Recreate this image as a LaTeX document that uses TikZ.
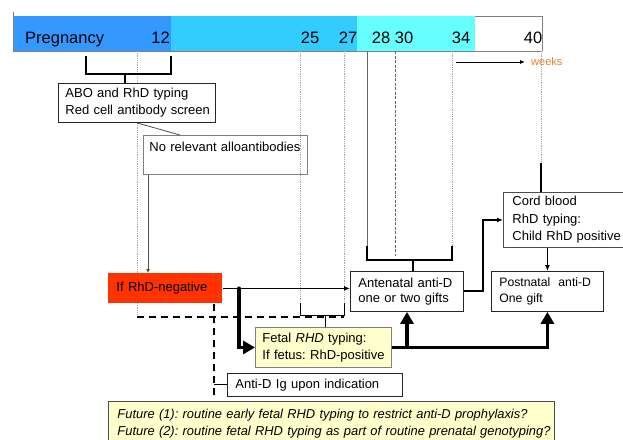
\documentclass[tikz,border=0pt]{standalone}
\usepackage{fontspec}
\setmainfont{Liberation Sans}
\usetikzlibrary{arrows.meta,calc}
\definecolor{barA}{HTML}{3399FF}
\definecolor{barB}{HTML}{33CCFF}
\definecolor{barC}{HTML}{66FFFF}
\definecolor{rhred}{HTML}{FF3300}
\definecolor{paleyel}{HTML}{FFFFCC}
\definecolor{wkorange}{HTML}{E8822A}
\frenchspacing
\begin{document}
\begin{tikzpicture}[x=1pt,y=-1pt,
  box/.style={draw=black!85, line width=0.9pt, anchor=north west, inner xsep=8pt, inner ysep=0pt, align=left, font=\fontsize{13}{17}\selectfont},
  guide/.style={gray!70, line width=0.8pt, densely dotted},
  bracket/.style={line width=1.5pt},
  barnum/.style={anchor=base, font=\fontsize{16.5}{18}\selectfont, inner sep=0pt},
  tip/.style={-{Latex[length=6pt,width=5pt]}},
  fatarrow/.style={line width=3.5pt, -{Triangle[length=12pt,width=13pt]}},
  dashline/.style={line width=1.5pt, dash pattern=on 7pt off 5pt},
]
\useasboundingbox (0,0) rectangle (623,439);
\fill[white] (0,0) rectangle (623,439);

% timeline bar
\fill[barA] (13,16) rectangle (171,51);
\fill[barB] (171,16) rectangle (357,51);
\fill[barC] (357,16) rectangle (475,51);
\draw[gray, line width=0.8pt] (475,16) -- (542,16) -- (542,51);
\draw[gray, line width=0.8pt] (13,51) -- (542,51);
\draw[gray, line width=0.8pt] (13,12) -- (13,52);
\node[barnum, anchor=base west] (preg) at (25,43) {Pregnancy};
\node[barnum, anchor=base east] (n12) at (170,43) {12};
\node[barnum] (n25) at (310,43) {25};
\node[barnum] (n27) at (348,43) {27};
\node[barnum] (n28) at (381,43) {28};
\node[barnum] (n30) at (404,43) {30};
\node[barnum] (n34) at (461,43) {34};
\node[barnum] (n40) at (533,43) {40};

% weeks arrow
\coordinate (wk0) at (456,62);
\node[anchor=west, text=wkorange, font=\fontsize{11}{12}\selectfont, inner sep=0pt] (weeks) at (531,62) {weeks};
\draw[line width=0.8pt, -{Latex[length=5pt,width=4pt]}] (wk0) -- ([xshift=-6pt]weeks.west);

% week guide coordinates
\coordinate (g137) at (137,51);
\coordinate (g300) at (300,51);
\coordinate (g344) at (344,51);
\coordinate (g367) at (367,51);
\coordinate (g395) at (395,51);
\coordinate (g452) at (452,51);
\coordinate (g541) at (541,51);

% guides
\draw[guide] (g137) -- (137,317);
\draw[guide] (g300) -- (300,303);
\draw[guide] (g344) -- (344,303);
\draw[gray!80!black, line width=0.8pt] (g367) -- (367,246);
\draw[gray!80!black, line width=0.8pt, dash pattern=on 3pt off 1.5pt] (g395) -- (395,256);
\draw[guide] (g452) -- (452,246);
\draw[guide] (g541) -- (541,163);

% boxes
\node[box, inner xsep=7pt, fill=white, minimum width=157pt, minimum height=39pt, text width=143pt] (abo) at (58,83)
  {\mbox{ABO and RhD typing}\\\mbox{Red cell antibody screen}};
\node[box, draw=gray, inner xsep=6pt, minimum width=164pt, minimum height=39pt, text width=152pt] (norel) at (143,135)
  {\mbox{No relevant alloantibodies}\\\mbox{}};
\node[box, draw=none, fill=rhred, minimum width=114pt, minimum height=30pt, text width=98pt] (red) at (108,273)
  {\mbox{If RhD-negative}};
\node[box, fill=white, minimum width=113pt, minimum height=40pt, text width=97pt, font=\fontsize{13}{15.5}\selectfont] (ante) at (350,271)
  {\mbox{Antenatal anti-D}\\\mbox{one or two gifts}};
\node[box, fill=white, draw=gray!60!black, inner xsep=9pt, minimum width=140pt, minimum height=55pt, text width=122pt, font=\fontsize{13}{17.5}\selectfont] (cord) at (503,192)
  {Cord blood\\RhD typing:\\\mbox{Child RhD positive}};
\node[box, fill=white, minimum width=112pt, minimum height=40pt, text width=96pt, font=\fontsize{12.2}{15.5}\selectfont] (post) at (491,271)
  {\mbox{Postnatal~ anti-D}\\One gift};
\node[box, fill=paleyel, draw=gray, inner xsep=7pt, minimum width=136pt, minimum height=40pt, text width=122pt] (fetal) at (255,327)
  {\mbox{Fetal \textit{RHD} typing:}\\\mbox{If fetus: RhD-positive}};
\node[box, fill=white, minimum width=175pt, minimum height=23pt, text width=159pt] (antid) at (227,373)
  {\mbox{Anti-D Ig upon indication}};
\node[box, fill=paleyel, draw=black!70, inner xsep=9pt, minimum width=446pt, minimum height=44pt, text width=428pt, font=\fontsize{12.9}{17}\selectfont\itshape] (future) at (108,401)
  {\mbox{Future (1): routine early fetal RHD typing to restrict anti-D prophylaxis?}\\\mbox{Future (2): routine fetal RHD typing as part of routine prenatal genotyping?}};

% 12-week bracket
\draw[bracket] (86,56) -- (86,74) -- (171,74) -- (171,56);
\coordinate (b12) at (125,74);
\draw[bracket] (b12) -- (b12 |- abo.north);

% callout ABO -> no relevant
\draw[gray!60!black, line width=0.8pt] (abo.south) -- ($(norel.north west)+(37,0)$);

% no relevant -> red
\coordinate (nx) at (148,0);
\draw[black!70, line width=0.8pt, -{Latex[length=4pt,width=4pt]}] (nx |- norel.south) -- (nx |- red.north);

% antenatal bracket (28-34)
\draw[bracket] (367,246) -- (367,260) -- (452,260) -- (452,246);
\coordinate (ab) at (413,260);
\draw[bracket] (ab) -- (ab |- ante.north);

% fetal bracket (25-27)
\draw[line width=1pt] (300,303) -- (300,315) -- (344,315) -- (344,303);
\coordinate (fb) at (325,315);
\draw[line width=1pt] (fb) -- (fb |- fetal.north);

% 40-week -> cord blood
\draw[line width=1.5pt] (541,163) -- (g541 |- cord.north);

% dashed routes
\draw[dashline] (137,317) -- (344,317);
\coordinate (dx) at (214,0);
\draw[dashline] (dx |- red.south) -- (214,398);
\draw[line width=1pt] (dx |- antid.west) -- (antid.west);

% red -> antenatal and fetal
\coordinate (jx) at (239,0);
\path (jx |- red.east) coordinate (j);
\draw[line width=0.9pt] (red.east) -- (j);
\draw[line width=1.8pt, tip] (j) -- (j -| ante.west);
\draw[fatarrow] (j) |- (fetal.west);
\fill (j) circle (2pt);

% fetal -> antenatal, postnatal
\draw[fatarrow] (fetal.east) -| (post.south);
\coordinate (ax) at (407,0);
\draw[fatarrow] (ax |- fetal.east) -- (ax |- ante.south);

% antenatal -> cord blood
\coordinate (cx) at (483,0);
\draw[line width=2pt, tip] (ante.east) -- (cx |- ante.east) |- (cord.west);

% cord blood -> postnatal
\draw[line width=1.5pt, tip] (cord.south -| post.north) -- (post.north);
\end{tikzpicture}
\end{document}
